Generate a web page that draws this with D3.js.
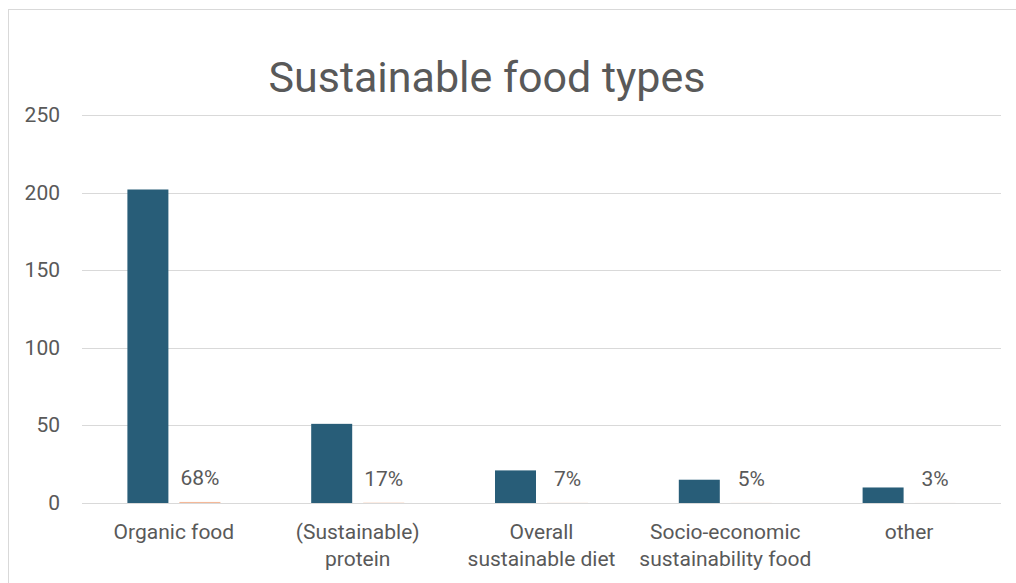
<!DOCTYPE html>
<html>
<head>
<meta charset="utf-8">
<script src="https://cdn.jsdelivr.net/npm/d3@7"></script>
<style>
  body { margin: 0; background: #fff; }
  text { font-family: Roboto, "Liberation Sans", sans-serif; fill: #595959; }
</style>
</head>
<body>
<div id="chart"></div>
<script>
const categories = [
  ['Organic food'],
  ['(Sustainable)', 'protein'],
  ['Overall', 'sustainable diet'],
  ['Socio-economic', 'sustainability food'],
  ['other']
];
const counts = [202, 51, 21, 15, 10];
const shares = [0.68, 0.17, 0.07, 0.05, 0.03];
const yTicks = [0, 50, 100, 150, 200, 250];

const w = 1016, h = 583;
const svg = d3.select('#chart').append('svg')
  .attr('width', w)
  .attr('height', h);

// outer chart frame
svg.append('rect')
  .attr('x', 8.5).attr('y', 9.5)
  .attr('width', w + 10).attr('height', h + 10)
  .style('fill', 'none')
  .style('stroke', '#d9d9d9');

const plotLeft = 82, plotRight = 1001, plotTop = 115, plotBottom = 503;

const x = d3.scaleBand()
  .domain(d3.range(categories.length))
  .range([plotLeft, plotRight]);

const yScale = d3.scaleLinear()
  .domain([0, 250])
  .range([plotBottom, plotTop]);

const barW = 41, gap = 11;

// gridlines
svg.append('g')
  .selectAll('line')
  .data(yTicks)
  .enter()
  .append('line')
  .attr('x1', plotLeft).attr('x2', plotRight)
  .attr('y1', d => Math.round(yScale(d)) + 0.5)
  .attr('y2', d => Math.round(yScale(d)) + 0.5)
  .style('stroke', '#d9d9d9')
  .style('stroke-width', 1);

// y tick labels
svg.append('g')
  .selectAll('text')
  .data(yTicks)
  .enter()
  .append('text')
  .attr('x', 60)
  .attr('y', d => yScale(d) + 7)
  .attr('text-anchor', 'end')
  .style('font-size', '21px')
  .text(d => d);

const cx = i => x(i) + x.bandwidth() / 2;

// count bars
svg.append('g')
  .selectAll('rect')
  .data(counts)
  .enter()
  .append('rect')
  .attr('x', (d, i) => cx(i) - gap / 2 - barW)
  .attr('y', d => yScale(d))
  .attr('width', barW)
  .attr('height', d => plotBottom - yScale(d))
  .style('fill', '#285d78');

// share bars (plotted on same axis, so they are tiny)
svg.append('g')
  .selectAll('rect')
  .data(shares)
  .enter()
  .append('rect')
  .attr('x', (d, i) => cx(i) + gap / 2)
  .attr('y', d => yScale(d))
  .attr('width', barW)
  .attr('height', d => plotBottom - yScale(d))
  .style('fill', '#e97132')
  .style('opacity', 0.5);

// share labels
svg.append('g')
  .selectAll('text')
  .data(shares)
  .enter()
  .append('text')
  .attr('x', (d, i) => cx(i) + gap / 2 + barW / 2)
  .attr('y', d => yScale(d) - 17)
  .attr('text-anchor', 'middle')
  .style('font-size', '21px')
  .text(d => Math.round(d * 100) + '%');

// category labels
const cat = svg.append('g')
  .selectAll('text')
  .data(categories)
  .enter()
  .append('text')
  .attr('text-anchor', 'middle')
  .style('font-size', '21px');
cat.each(function(lines, i) {
  d3.select(this).selectAll('tspan')
    .data(lines)
    .enter()
    .append('tspan')
    .attr('x', cx(i))
    .attr('y', (l, k) => 539 + k * 27)
    .text(l => l);
});

// title
svg.append('text')
  .attr('x', 487)
  .attr('y', 92)
  .attr('text-anchor', 'middle')
  .style('font-size', '43px')
  .text('Sustainable food types');
</script>
</body>
</html>
